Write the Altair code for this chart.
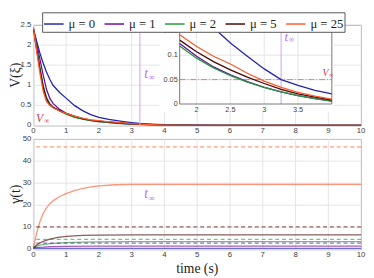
import altair as alt
import pandas as pd

# ---------------- data ----------------
series = ["μ = 0", "μ = 1", "μ = 2", "μ = 5", "μ = 25"]
colors = ["#2323b0", "#6b0a9e", "#1f9a3a", "#4a0606", "#ff5a2a"]

t_top = [0, 0.1, 0.2, 0.3, 0.4, 0.5, 0.6, 0.8, 1.0, 1.25, 1.5, 1.75, 2.0, 2.25,
         2.5, 2.75, 3.0, 3.25, 3.5, 3.75, 4.0, 5, 6, 7, 8, 9, 10]
t_top_mu0 = [0, 0.1, 0.2, 0.3, 0.4, 0.5, 0.6, 0.8, 1.0, 1.25, 1.5, 1.75, 2.0, 2.3,
             2.5, 2.75, 3.0, 3.25, 3.5, 3.75, 4.0, 5, 6, 7, 8, 9, 10]

v_mu0 = [2.4, 2.1, 1.8, 1.55, 1.33, 1.15, 1.0, 0.82, 0.68, 0.5, 0.37, 0.27, 0.2, 0.15,
         0.125, 0.098, 0.072, 0.05, 0.038, 0.028, 0.021, 0.007, 0.003, 0.001, 0, 0, 0]
v_mu1 = [2.4, 2.05, 1.65, 1.25, 0.9, 0.68, 0.55, 0.4, 0.3, 0.22, 0.165, 0.124, 0.098, 0.076,
         0.06, 0.046, 0.034, 0.025, 0.017, 0.011, 0.006, 0.002, 0, 0, 0, 0, 0]
v_mu2 = [2.4, 1.95, 1.45, 1.0, 0.7, 0.55, 0.46, 0.36, 0.28, 0.2, 0.155, 0.119, 0.094, 0.074,
         0.058, 0.045, 0.034, 0.025, 0.017, 0.011, 0.006, 0.002, 0, 0, 0, 0, 0]
v_mu5 = [2.4, 1.9, 1.4, 0.95, 0.66, 0.52, 0.45, 0.37, 0.3, 0.23, 0.172, 0.131, 0.107, 0.087,
         0.07, 0.055, 0.042, 0.03, 0.021, 0.014, 0.008, 0.003, 0.001, 0, 0, 0, 0]
v_mu25 = [2.45, 1.85, 1.3, 0.85, 0.6, 0.5, 0.44, 0.36, 0.3, 0.235, 0.18, 0.142, 0.118, 0.098,
          0.082, 0.063, 0.047, 0.034, 0.024, 0.016, 0.01, 0.003, 0.001, 0, 0, 0, 0]

t_g0 = [0, 10]
g0 = [0.4, 0.4]
t_g1 = [0, 0.3, 0.5, 1.0, 2.0, 10]
g1 = [0.8, 1.0, 1.2, 1.4, 1.5, 1.5]
t_g2 = [0, 0.2, 0.5, 1.0, 1.5, 2.0, 3.0, 10]
g2 = [1, 1.9, 2.6, 3.1, 3.3, 3.4, 3.5, 3.5]
t_g5 = [0, 0.1, 0.2, 0.3, 0.5, 0.75, 1.0, 1.5, 2.0, 3.0, 10]
g5 = [0.5, 2, 2.9, 3.6, 4.6, 5.4, 5.9, 6.3, 6.5, 6.6, 6.6]
t_g25 = [0, 0.05, 0.1, 0.2, 0.3, 0.4, 0.5, 0.6, 0.8, 1.0, 1.25, 1.5, 1.75, 2.0, 2.5, 3.0, 10]
g25 = [1, 4, 7.5, 12.5, 16.3, 18.8, 20.6, 22, 24, 25.3, 26.6, 27.6, 28.3, 28.8, 29.3, 29.5, 29.5]

bound_series = ["μ = 1", "μ = 2", "μ = 5", "μ = 25"]
bound_values = [2.8, 4.5, 10.2, 46.5]

t_inf = 3.25
v_inf = 0.05

main_ticks_x = list(range(11))
main_ticks_y = [0, 0.5, 1, 1.5, 2, 2.5]
inset_ticks_x = [2, 2.5, 3, 3.5]
inset_ticks_y = [0, 0.05, 0.1, 0.15]
inset_dom_x = [1.75, 4]
inset_dom_y = [0, 0.15]
bot_ticks_y = [0, 10, 20, 30, 40, 50]

# ---------------- tables ----------------
rows = []
for name, ts, vs in zip(series, [t_top_mu0] + [t_top] * 4, [v_mu0, v_mu1, v_mu2, v_mu5, v_mu25]):
    for t, v in zip(ts, vs):
        rows.append({"series": name, "t": t, "v": v})
top_df = pd.DataFrame(rows)

rows = []
for name, ts, gs in zip(series, [t_g0, t_g1, t_g2, t_g5, t_g25], [g0, g1, g2, g5, g25]):
    for t, g in zip(ts, gs):
        rows.append({"series": name, "t": t, "v": g})
bot_df = pd.DataFrame(rows)
bound_df = pd.DataFrame({"series": bound_series, "v": bound_values})

color_scale = alt.Scale(domain=series, range=colors)
SERIF = "Liberation Serif"
SANS = "Liberation Sans"
LABC = "#404040"
GRIDC = "#e4e4e4"
AXC = "#666666"
PURPLE_TXT = "#b46cff"
RED_TXT = "#c23a5c"


def sub_label(df, xenc, yenc, main, sub, color, size=14, shift=0.33):
    a = alt.Chart(df).mark_text(text=main, font=SERIF, fontStyle="italic", fontSize=size,
                                color=color, align="left", baseline="middle").encode(x=xenc, y=yenc)
    b = alt.Chart(df).mark_text(text=sub, font=SERIF, fontSize=size * 0.62, color=color,
                                align="left", baseline="middle", dx=size * shift,
                                dy=size * 0.25).encode(x=xenc, y=yenc)
    return [a, b]


def tick_labels(xenc, yenc, xticks, yticks, xmin, ymin, size=8):
    return [
        alt.Chart(pd.DataFrame({"t": xticks, "v": [ymin] * len(xticks)})).mark_text(
            font=SANS, fontSize=size, color=LABC, baseline="top", dy=2).encode(
            x=xenc, y=yenc, text=alt.Text("t:Q", format="~g")),
        alt.Chart(pd.DataFrame({"t": [xmin] * len(yticks), "v": yticks})).mark_text(
            font=SANS, fontSize=size, color=LABC, align="right", baseline="middle", dx=-2).encode(
            x=xenc, y=yenc, text=alt.Text("v:Q", format="~g")),
    ]


def frame(xenc, yenc, xticks, yticks, xmin, ymin, ytitle, xtitle=None, xtitle_at=None):
    """grid lines, tick labels and axis titles drawn as marks"""
    out = []
    out.append(alt.Chart(pd.DataFrame({"t": xticks})).mark_rule(
        color=GRIDC, strokeWidth=1).encode(x=xenc))
    out.append(alt.Chart(pd.DataFrame({"v": yticks})).mark_rule(
        color=GRIDC, strokeWidth=1).encode(y=yenc))
    out += tick_labels(xenc, yenc, xticks, yticks, xmin, ymin)
    # rotated title: dy is applied in the rotated frame, so negative dy moves it left
    out.append(alt.Chart(pd.DataFrame({"t": [xmin], "v": [ytitle[1]]})).mark_text(
        text=ytitle[0], font=SERIF, fontSize=14, color="#222222", angle=270,
        align="center", baseline="middle", dy=-18).encode(x=xenc, y=yenc))
    if xtitle:
        out.append(alt.Chart(pd.DataFrame({"t": [xtitle_at], "v": [ymin]})).mark_text(
            text=xtitle, font=SERIF, fontSize=14, color="#222222",
            align="center", baseline="middle", dy=20).encode(x=xenc, y=yenc))
    return out


# ---------------- top main ----------------
mx = alt.X("t:Q", scale=alt.Scale(domain=[0, 10], nice=False), axis=None)
my = alt.Y("v:Q", scale=alt.Scale(domain=[0, 2.5], nice=False), axis=None)

legend = alt.Legend(orient="none", legendX=9, legendY=-13, direction="horizontal", columns=5,
                    title=None, symbolType="stroke", symbolSize=400, symbolStrokeWidth=1.5,
                    labelFont=SERIF, labelFontSize=13, labelColor="#222222", labelOffset=4,
                    strokeColor="#555555", fillColor="white", padding=1, columnPadding=6,
                    labelLimit=0)
tcolor = alt.Color("series:N", scale=color_scale, legend=legend)

main_children = frame(mx, my, main_ticks_x, main_ticks_y, 0, 0, ("V(ξ)", 1.25))
main_children.append(alt.Chart(top_df).mark_line(strokeWidth=1.3, clip=True).encode(
    x=mx, y=my, color=tcolor, order=alt.Order("t:Q")))
main_children.append(alt.Chart(pd.DataFrame({"t": [t_inf]})).mark_rule(
    color="#cf9dff", strokeWidth=1).encode(x=mx))
main_children += sub_label(pd.DataFrame({"t": [3.38], "v": [1.28]}), mx, my, "t", "∞", PURPLE_TXT)
main_children += sub_label(pd.DataFrame({"t": [0.08], "v": [0.19]}), mx, my, "V", "∞", RED_TXT,
                           size=12, shift=0.7)
main = alt.layer(*main_children)

# ---------------- inset ----------------
ix = alt.X("t:Q", scale=alt.Scale(domain=inset_dom_x, range=[150, 306], nice=False, zero=False),
           axis=None)
iy = alt.Y("v:Q", scale=alt.Scale(domain=inset_dom_y, range=[81, 6], nice=False), axis=None)

bg = alt.Chart(pd.DataFrame({"t": [1.45], "t2": [4.03], "v": [-0.017], "v2": [0.156]})).mark_rect(
    fill="white").encode(x=ix, x2="t2", y=iy, y2="v2")
gv = alt.Chart(pd.DataFrame({"t": inset_ticks_x, "v": [inset_dom_y[0]] * 4,
                             "v2": [inset_dom_y[1]] * 4})).mark_rule(
    color=GRIDC, strokeWidth=1).encode(x=ix, y=iy, y2="v2")
gh = alt.Chart(pd.DataFrame({"v": inset_ticks_y[1:], "t": [inset_dom_x[0]] * 3,
                             "t2": [inset_dom_x[1]] * 3})).mark_rule(
    color=GRIDC, strokeWidth=1).encode(y=iy, x=ix, x2="t2")
# inset frame: left, right (vertical) and bottom (horizontal)
fv = alt.Chart(pd.DataFrame({"t": inset_dom_x, "v": [inset_dom_y[0]] * 2,
                             "v2": [inset_dom_y[1]] * 2})).mark_rule(
    color=AXC, strokeWidth=0.9).encode(x=ix, y=iy, y2="v2")
fh = alt.Chart(pd.DataFrame({"v": [inset_dom_y[0]], "t": [inset_dom_x[0]],
                             "t2": [inset_dom_x[1]]})).mark_rule(
    color=AXC, strokeWidth=0.9).encode(y=iy, x=ix, x2="t2")
vinf = alt.Chart(pd.DataFrame({"v": [v_inf], "t": [inset_dom_x[0]], "t2": [inset_dom_x[1]]})).mark_rule(
    color="#cc4466", strokeWidth=0.9, strokeDash=[6, 2, 1, 2], opacity=0.75).encode(
    y=iy, x=ix, x2="t2")
tinf = alt.Chart(pd.DataFrame({"t": [t_inf], "v": [inset_dom_y[0]], "v2": [inset_dom_y[1]]})).mark_rule(
    color="#cf9dff", strokeWidth=1).encode(x=ix, y=iy, y2="v2")
ilines = alt.Chart(top_df).transform_filter(
    "datum.t >= 1.75 && datum.t <= 4 && datum.v <= 0.15").mark_line(strokeWidth=1.3).encode(
    x=ix, y=iy, color=tcolor, order=alt.Order("t:Q"))
inset_children = [bg, gv, gh, vinf, tinf, ilines, fv, fh]
inset_children += tick_labels(ix, iy, inset_ticks_x, inset_ticks_y, inset_dom_x[0], inset_dom_y[0],
                              size=7.5)
inset_children += sub_label(pd.DataFrame({"t": [3.3], "v": [0.138]}), ix, iy, "t", "∞", PURPLE_TXT,
                            size=13)
inset_children += sub_label(pd.DataFrame({"t": [3.86], "v": [0.064]}), ix, iy, "V", "∞", RED_TXT,
                            size=10, shift=0.7)
inset = alt.layer(*inset_children)

top = alt.layer(main, inset).resolve_scale(x="independent", y="independent").properties(
    width=336, height=103)

# ---------------- bottom ----------------
bx = alt.X("t:Q", scale=alt.Scale(domain=[0, 10], nice=False), axis=None)
by = alt.Y("v:Q", scale=alt.Scale(domain=[0, 50], nice=False), axis=None)
bcolor = alt.Color("series:N", scale=color_scale, legend=None)
bottom_children = frame(bx, by, main_ticks_x, bot_ticks_y, 0, 0, ("γ(t)", 25),
                        xtitle="time (s)", xtitle_at=5)
bottom_children.append(alt.Chart(bot_df).mark_line(strokeWidth=1.3, opacity=0.65).encode(
    x=bx, y=by, color=bcolor, order=alt.Order("t:Q")))
bottom_children.append(alt.Chart(bound_df).mark_rule(
    strokeWidth=1.2, strokeDash=[4, 3], opacity=0.6).encode(y=by, color=bcolor))
bottom_children += sub_label(pd.DataFrame({"t": [3.38], "v": [25]}), bx, by, "t", "∞", PURPLE_TXT)
bottom = alt.layer(*bottom_children).properties(width=336, height=113)

chart = alt.vconcat(top, bottom, spacing=14, bounds="flush").resolve_scale(
    color="independent", x="independent", y="independent").configure(
    padding=0, background="white").configure_view(stroke="#8a8a8a", strokeWidth=0.9)

chart.save("out.html", embed_options={"renderer": "svg", "actions": False})
